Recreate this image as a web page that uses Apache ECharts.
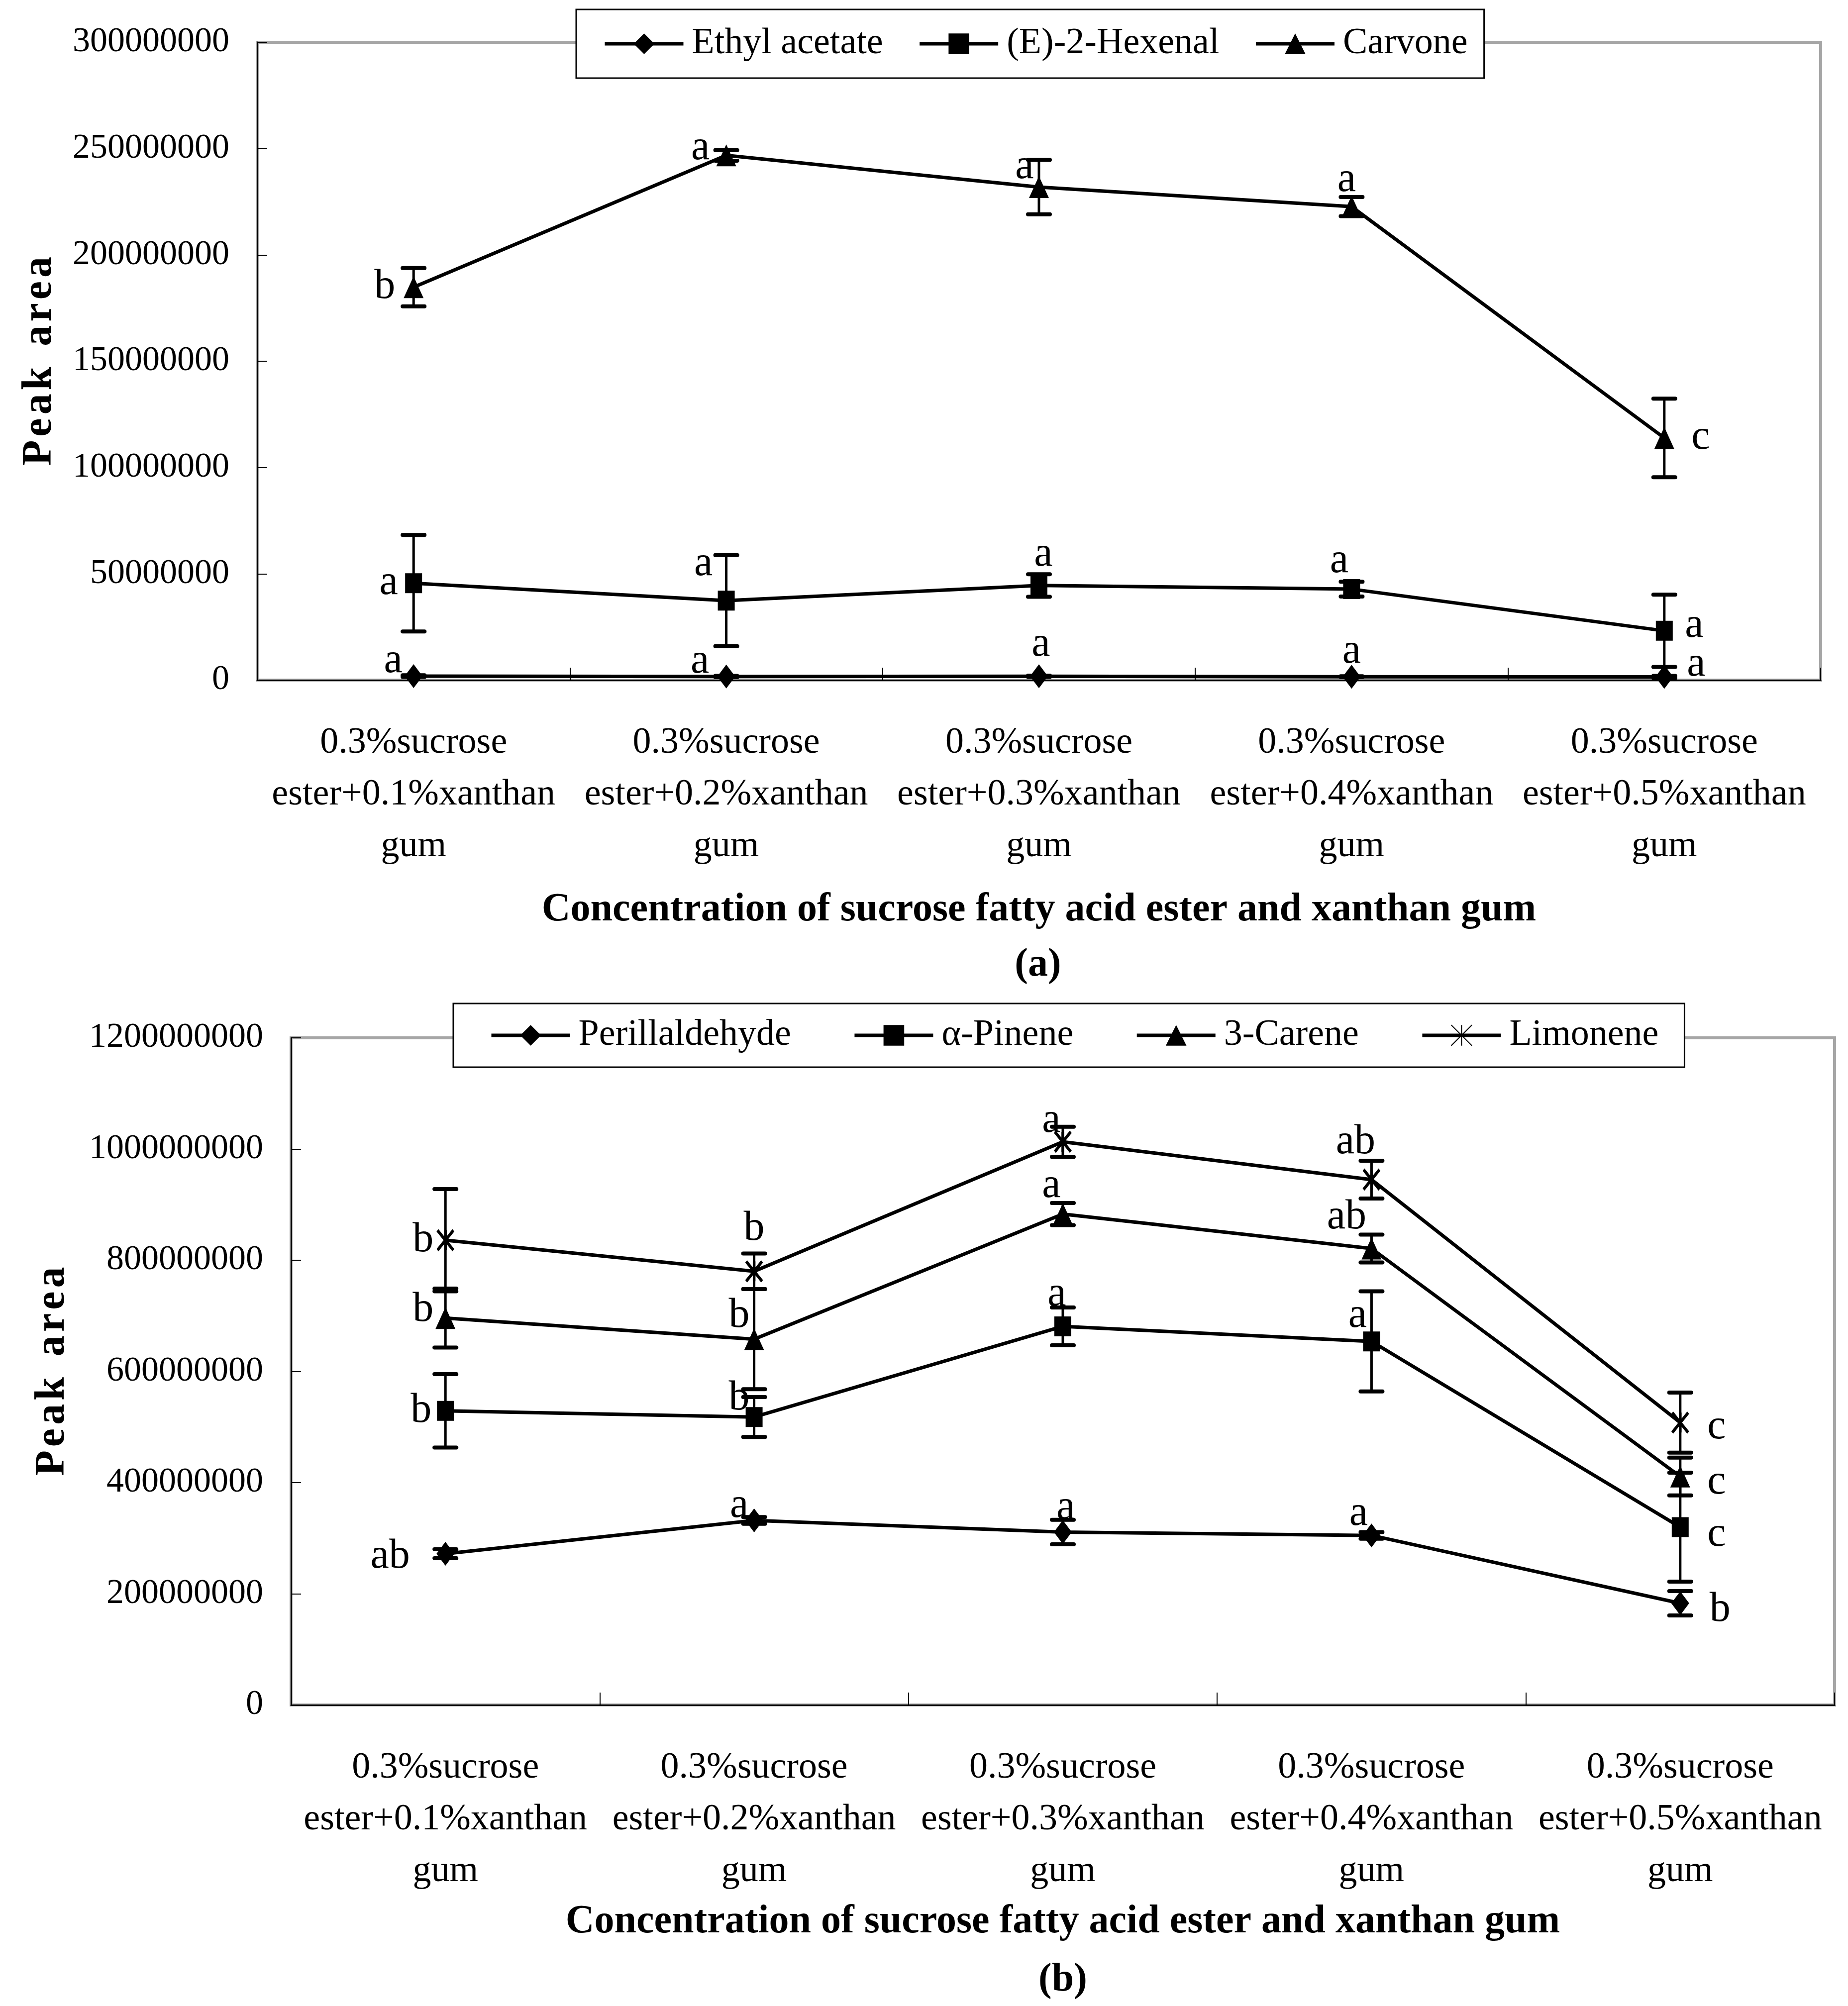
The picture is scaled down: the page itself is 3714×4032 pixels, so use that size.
<!DOCTYPE html>
<html><head><meta charset="utf-8">
<script src="https://cdn.jsdelivr.net/npm/echarts@6/dist/echarts.min.js"></script>
<style>html,body{margin:0;padding:0;background:#fff}#c{width:3714px;height:4032px}</style>
</head><body><div id="c"></div>
<script>
// ---------- data ----------
const categories = [
  '0.3%sucrose\nester+0.1%xanthan\ngum',
  '0.3%sucrose\nester+0.2%xanthan\ngum',
  '0.3%sucrose\nester+0.3%xanthan\ngum',
  '0.3%sucrose\nester+0.4%xanthan\ngum',
  '0.3%sucrose\nester+0.5%xanthan\ngum'
];
// panel (a)
const namesA = ['Ethyl acetate', '(E)-2-Hexenal', 'Carvone'];
const ethylAcetate    = [1.9e6, 1.7e6, 1.8e6, 1.6e6, 1.5e6];
const ethylAcetateErr = [0.4e6, 0.3e6, 0.3e6, 0.2e6, 0.5e6];
const hexenal         = [45.6e6, 37.4e6, 44.5e6, 42.8e6, 23.2e6];
const hexenalErr      = [22.7e6, 21.4e6, 5.3e6, 3.5e6, 17.0e6];
const carvone         = [184.8e6, 246.8e6, 231.9e6, 222.7e6, 113.9e6];
const carvoneErr      = [9.0e6, 2.5e6, 12.8e6, 4.5e6, 18.5e6];
const ethylLetters   = ['a', 'a', 'a', 'a', 'a'];
const hexenalLetters = ['a', 'a', 'a', 'a', 'a'];
const carvoneLetters = ['b', 'a', 'a', 'a', 'c'];
const yTicksA = [0, 50000000, 100000000, 150000000, 200000000, 250000000, 300000000];

// panel (b)
const namesB = ['Perillaldehyde', 'α-Pinene', '3-Carene', 'Limonene'];
const perillaldehyde    = [272e6, 332e6, 311e6, 305e6, 183e6];
const perillaldehydeErr = [8e6, 6e6, 22e6, 6e6, 22e6];
const pinene            = [529e6, 518e6, 681e6, 654e6, 320e6];
const pineneErr         = [66e6, 36e6, 34e6, 90e6, 98e6];
const carene            = [696e6, 658e6, 883e6, 821e6, 411e6];
const careneErr         = [53e6, 90e6, 20e6, 25e6, 34e6];
const limonene          = [836e6, 780e6, 1013e6, 945e6, 508e6];
const limoneneErr       = [92e6, 32e6, 27e6, 34e6, 54e6];
const perillLetters   = ['ab', 'a', 'a', 'a', 'b'];
const pineneLetters   = ['b', 'b', 'a', 'a', 'c'];
const careneLetters   = ['b', 'b', 'a', 'ab', 'c'];
const limoneneLetters = ['b', 'b', 'a', 'ab', 'c'];
const yTicksB = [0, 200000000, 400000000, 600000000, 800000000, 1000000000, 1200000000];

// ---------- label placement (style, px offsets from the point) ----------
const ethylLabelOff   = [[-41,-30],[-53,-30],[4,-63],[0,-50],[64,-25]];
const hexenalLabelOff = [[-50,0],[-46,-73],[9,-62],[-25,-56],[60,-10]];
const carvoneLabelOff = [[-58,0],[-52,-14],[-29,-40],[-10,-53],[73,0]];
const perillLabelOff  = [[-111,6],[-30,-29],[6,-49],[-26,-43],[80,13]];
const pineneLabelOff  = [[-49,0],[-30,-37],[-12,-64],[-28,-51],[73,16]];
const careneLabelOff  = [[-45,-16],[-30,-47],[-23,-56],[-50,-63],[73,12]];
const limoneneLabelOff= [[-45,0],[0,-85],[-23,-42],[-32,-75],[73,10]];

const FONT = "'Liberation Serif','Times New Roman',serif";
const BLACK = '#000';

function errData(vals, errs) {
  return vals.map((v, i) => [i, v, v - errs[i], v + errs[i]]);
}
function errRender(letters, offsets) {
  return function (params, api) {
    const k = params.dataIndex;
    const p = api.coord([api.value(0), api.value(1)]);
    const lo = api.coord([api.value(0), api.value(2)]);
    const hi = api.coord([api.value(0), api.value(3)]);
    const cw = 22;
    return {
      type: 'group',
      children: [
        {type: 'line', shape: {x1: p[0], y1: hi[1], x2: p[0], y2: lo[1]}, style: {stroke: BLACK, lineWidth: 5}},
        {type: 'line', shape: {x1: p[0]-cw, y1: hi[1], x2: p[0]+cw, y2: hi[1]}, style: {stroke: BLACK, lineWidth: 8, lineCap: 'round'}},
        {type: 'line', shape: {x1: p[0]-cw, y1: lo[1], x2: p[0]+cw, y2: lo[1]}, style: {stroke: BLACK, lineWidth: 8, lineCap: 'round'}},
        {type: 'text', x: p[0] + offsets[k][0], y: p[1] + offsets[k][1],
         style: {text: letters[k], fill: BLACK, fontSize: 84, fontFamily: FONT, align: 'center', verticalAlign: 'middle'}}
      ]
    };
  };
}
function lineSeries(name, vals, symbol, size, gi, extraItem) {
  return {
    type: 'line', name, data: vals, xAxisIndex: gi, yAxisIndex: gi,
    symbol, symbolSize: size, showAllSymbol: true,
    lineStyle: {color: BLACK, width: 7},
    itemStyle: Object.assign({color: BLACK}, extraItem || {}),
    emphasis: {disabled: true}, z: 3, animation: false
  };
}
function errSeries(vals, errs, letters, offsets, gi) {
  return {
    type: 'custom', xAxisIndex: gi, yAxisIndex: gi,
    data: errData(vals, errs), renderItem: errRender(letters, offsets),
    encode: {x: 0, y: 1}, z: 4, animation: false, silent: true
  };
}

const limSymbol = 'path://M0,0L10,10M10,0L0,10M5,0L5,10';

function xAxisCfg(gi, nameGap) {
  return {
    type: 'category', gridIndex: gi, data: categories, boundaryGap: true,
    axisLine: {show: true, lineStyle: {color: BLACK, width: 3}},
    axisTick: {show: true, inside: true, length: 25, interval: 0, lineStyle: {color: BLACK, width: 2}},
    axisLabel: {interval: 0, fontSize: 74, lineHeight: 104, margin: 75, color: BLACK, fontFamily: FONT},
    splitLine: {show: false},
    name: 'Concentration of sucrose fatty acid ester and xanthan gum',
    nameLocation: 'middle', nameGap,
    nameTextStyle: {fontSize: 80, fontWeight: 'bold', fontFamily: FONT, color: BLACK, lineHeight: 80}
  };
}
function yAxisCfg(gi, ticks, nameGap) {
  return {
    type: 'value', gridIndex: gi, min: ticks[0], max: ticks[ticks.length-1],
    interval: ticks[1] - ticks[0],
    axisLine: {show: true, lineStyle: {color: BLACK, width: 3}},
    axisTick: {show: true, inside: true, length: 20, lineStyle: {color: BLACK, width: 2}},
    axisLabel: {fontSize: 70, margin: 56, color: BLACK, fontFamily: FONT, formatter: v => String(v)},
    splitLine: {show: false},
    name: 'P\u200Ae\u200Aa\u200Ak  a\u200Ar\u200Ae\u200Aa', nameLocation: 'middle', nameGap, nameRotate: 90,
    nameTextStyle: {fontSize: 84, fontWeight: 'bold', fontFamily: FONT, color: BLACK, lineHeight: 80}
  };
}
function legendCfg(data, left, top, padding, gap) {
  return {
    data, left, top, orient: 'horizontal', padding, itemGap: gap,
    itemWidth: 158, itemHeight: 52, selectedMode: false,
    lineStyle: {width: 7, color: BLACK},
    backgroundColor: '#fff', borderColor: BLACK, borderWidth: 3, borderRadius: 0,
    textStyle: {fontSize: 74, fontFamily: FONT, color: BLACK, lineHeight: 74, padding: [0, 0, 0, 12]},
    z: 20
  };
}

const chart = echarts.init(document.getElementById('c'), null, {renderer: 'canvas'});
chart.setOption({
  backgroundColor: '#fff',
  animation: false,
  grid: [
    {left: 517, top: 85, right: 55, height: 1282, show: true, borderColor: '#a6a6a6', borderWidth: 6, backgroundColor: '#fff'},
    {left: 585, top: 2086, right: 27, height: 1341, show: true, borderColor: '#a6a6a6', borderWidth: 6, backgroundColor: '#fff'}
  ],
  xAxis: [xAxisCfg(0, 422), xAxisCfg(1, 396)],
  yAxis: [yAxisCfg(0, yTicksA, 397), yAxisCfg(1, yTicksB, 439)],
  legend: [
    legendCfg(namesA, 1158, 19, [32, 33, 32, 54], 70),
    legendCfg(namesB, 911, 2017, [27, 52, 27, 73], 124)
  ],
  graphic: [
    {type: 'text', x: 2086, y: 1940, style: {text: '(a)', fontSize: 80, fontWeight: 'bold', fontFamily: FONT, fill: BLACK, align: 'center', verticalAlign: 'middle'}},
    {type: 'text', x: 2136, y: 3980, style: {text: '(b)', fontSize: 80, fontWeight: 'bold', fontFamily: FONT, fill: BLACK, align: 'center', verticalAlign: 'middle'}}
  ],
  series: [
    lineSeries(namesA[0], ethylAcetate, 'diamond', [36, 48], 0),
    lineSeries(namesA[1], hexenal, 'rect', [34, 40], 0),
    lineSeries(namesA[2], carvone, 'triangle', [40, 44], 0),
    errSeries(ethylAcetate, ethylAcetateErr, ethylLetters, ethylLabelOff, 0),
    errSeries(hexenal, hexenalErr, hexenalLetters, hexenalLabelOff, 0),
    errSeries(carvone, carvoneErr, carvoneLetters, carvoneLabelOff, 0),

    lineSeries(namesB[0], perillaldehyde, 'diamond', [36, 48], 1),
    lineSeries(namesB[1], pinene, 'rect', [34, 40], 1),
    lineSeries(namesB[2], carene, 'triangle', [40, 44], 1),
    lineSeries(namesB[3], limonene, limSymbol, [32, 40], 1, {borderColor: BLACK, borderWidth: 6}),
    errSeries(perillaldehyde, perillaldehydeErr, perillLetters, perillLabelOff, 1),
    errSeries(pinene, pineneErr, pineneLetters, pineneLabelOff, 1),
    errSeries(carene, careneErr, careneLetters, careneLabelOff, 1),
    errSeries(limonene, limoneneErr, limoneneLetters, limoneneLabelOff, 1)
  ]
});
</script>
</body></html>
